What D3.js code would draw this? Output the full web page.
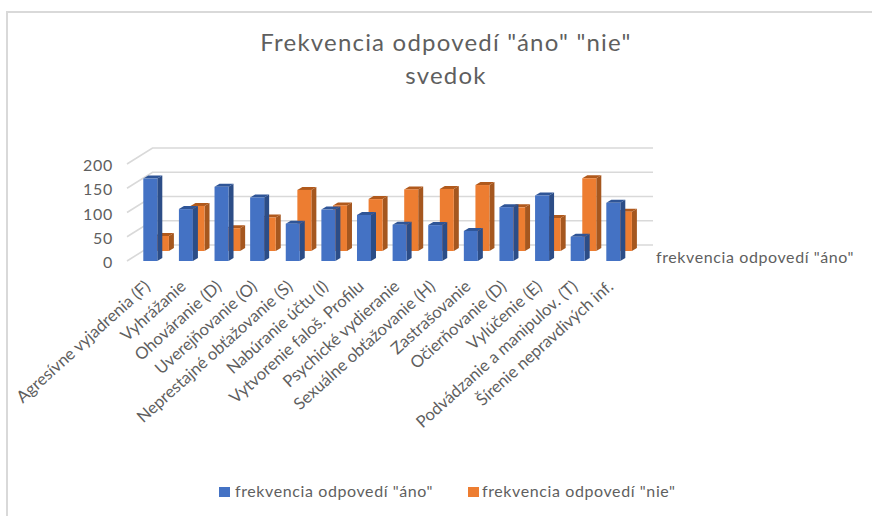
<!DOCTYPE html>
<html>
<head>
<meta charset="utf-8">
<script src="https://cdn.jsdelivr.net/npm/d3@7/dist/d3.min.js"></script>
<style>
  html, body { margin: 0; padding: 0; background: #fff; }
  svg { display: block; }
  text { font-family: Lato, "Open Sans", sans-serif; fill: #5f5f5f; }
</style>
</head>
<body>
<div id="chart"></div>
<script>
const categories = [
  "Agresívne vyjadrenia (F)", "Vyhrážanie", "Ohováranie (D)", "Uverejňovanie (O)",
  "Neprestajné obťažovanie (S)", "Nabúranie účtu (I)", "Vytvorenie faloš. Profilu",
  "Psychické vydieranie", "Sexuálne obťažovanie (H)", "Zastrašovanie",
  "Očierňovanie (D)", "Vylúčenie (E)", "Podvádzanie a manipulov. (T)", "Šírenie nepravdivých inf."
];
const yesValues = [170, 107, 153, 131, 77, 106, 95, 75, 74, 62, 111, 135, 50, 120];
const noValues = [31, 93, 47, 69, 126, 94, 107, 127, 128, 136, 90, 68, 150, 81];
const valueTicks = [0, 50, 100, 150, 200];
const yesName = 'frekvencia odpovedí "áno"';
const noName = 'frekvencia odpovedí "nie"';
const titleLines = ['Frekvencia odpovedí "áno" "nie"', 'svedok'];

const width = 872, height = 516;
const floorY = 261, topY = 164;
const wallDx = 25.5, wallDy = -16, wallRight = 653, axisX = 127;
const barW = 14, depthX = 5, depthY = -3;
const rowDx = 11.6, rowDy = -10;

const svg = d3.select("#chart").append("svg").attr("width", width).attr("height", height);

// Chart frame: only the top and left edges are visible
svg.append("path")
  .attr("d", `M7,${height}V12H${width}`)
  .attr("fill", "none").attr("stroke", "#d9d9d9").attr("stroke-width", 2);

const x = d3.scalePoint().domain(categories).range([143.3, 606.3]);
const y = d3.scaleLinear().domain([0, 200]).range([floorY, topY]);

// Gridlines run along the side wall and then across the back wall
svg.append("g").selectAll("path").data(valueTicks).join("path")
  .attr("d", d => `M${axisX},${y(d)}l${wallDx},${wallDy}H${wallRight}`)
  .attr("fill", "none").attr("stroke", "#d9d9d9").attr("stroke-width", 1.6);

// Value axis labels
const axis = svg.append("g")
  .attr("transform", "translate(119,1.5)")
  .call(d3.axisLeft(y).tickValues(valueTicks).tickSize(0).tickPadding(6));
axis.select(".domain").remove();
axis.selectAll("text")
  .attr("font-size", 16).style("font-family", "Lato, sans-serif").style("letter-spacing", "0.7px");

// Draws one row of 3D bars: front face, side face, top face
function drawRow(values, offX, offY, colors) {
  const g = svg.append("g").selectAll("g").data(values).join("g")
    .attr("transform", (d, i) => `translate(${x(categories[i]) + offX},${offY})`);
  g.append("path").attr("fill", colors.side)
    .attr("d", d => `M${barW},${y(d)}l${depthX},${depthY}V${floorY + depthY}l${-depthX},${-depthY}Z`);
  g.append("path").attr("fill", colors.top)
    .attr("d", d => `M0,${y(d)}l${depthX},${depthY}h${barW}l${-depthX},${-depthY}Z`);
  g.append("rect").attr("fill", colors.front)
    .attr("x", 0).attr("width", barW)
    .attr("y", d => y(d)).attr("height", d => floorY - y(d));
}
drawRow(noValues, rowDx, rowDy, { front: "#ed7d31", side: "#a5571f", top: "#b0591c" });
drawRow(yesValues, 0, 0, { front: "#4472c4", side: "#2c4d87", top: "#2f5597" });

// Rotated category labels ending just under each bar
svg.append("g").selectAll("text").data(categories).join("text")
  .attr("text-anchor", "end")
  .attr("font-size", 16.6)
  .attr("transform", d => `translate(${x(d) + 8},${288}) rotate(-42)`)
  .text(d => d);

// Depth-axis series name
svg.append("text").attr("x", 656).attr("y", 263).attr("font-size", 16)
  .style("letter-spacing", "0.6px").text(yesName);

// Title
svg.append("g").selectAll("text").data(titleLines).join("text")
  .attr("x", 446).attr("y", (d, i) => 51 + i * 33)
  .attr("text-anchor", "middle").attr("font-size", 24).attr("font-weight", 400)
  .style("letter-spacing", "1.2px").text(d => d);

// Legend
const legend = [
  { name: yesName, color: "#4472c4", sx: 219, tx: 235 },
  { name: noName, color: "#ed7d31", sx: 468, tx: 482 }
];
const lg = svg.append("g").selectAll("g").data(legend).join("g");
lg.append("rect").attr("x", d => d.sx).attr("y", 487).attr("width", 11).attr("height", 10).attr("fill", d => d.color);
lg.append("text").attr("x", d => d.tx).attr("y", 497).attr("font-size", 16)
  .style("letter-spacing", "0.6px").text(d => d.name);
</script>
</body>
</html>
